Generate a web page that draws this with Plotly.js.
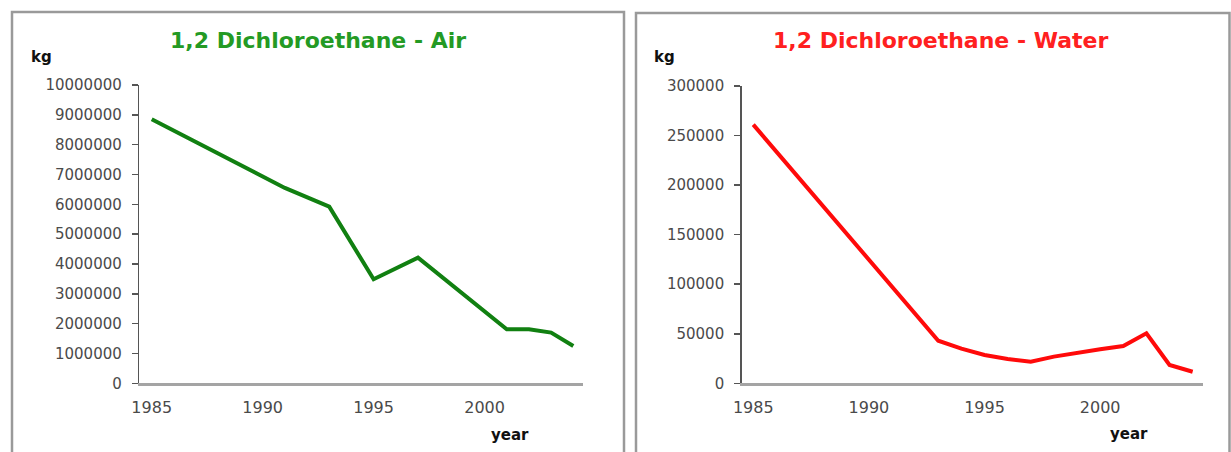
<!DOCTYPE html>
<html>
<head>
<meta charset="utf-8">
<script src="https://cdn.plot.ly/plotly-3.0.1.min.js"></script>
<style>html,body{margin:0;padding:0;background:#fff;}#chart{width:1231px;height:452px;}</style>
</head>
<body>
<div id="chart"></div>
<script>
// ---- data ----
const airYears = [1985, 1991, 1993, 1995, 1997, 2001, 2002, 2003, 2004];
const airKg = [8850000, 6550000, 5920000, 3490000, 4210000, 1810000, 1810000, 1700000, 1250000];

const waterYears = [1985, 1993, 1994, 1995, 1996, 1997, 1998, 1999, 2000, 2001, 2002, 2003, 2004];
const waterKg = [261000, 43000, 35000, 28600, 24500, 21800, 26900, 30900, 34300, 37600, 50400, 18500, 11700];

const xTickYears = [1985, 1990, 1995, 2000];
const airTicks = [0, 1000000, 2000000, 3000000, 4000000, 5000000, 6000000, 7000000, 8000000, 9000000, 10000000];
const waterTicks = [0, 50000, 100000, 150000, 200000, 250000, 300000];

const titleAir = "1,2 Dichloroethane - Air";
const titleWater = "1,2 Dichloroethane - Water";
const yLabel = "kg";
const xLabel = "year";

// ---- layout helpers ----
const W = 1231, H = 452;
const px = x => x / W;
const py = y => 1 - y / H;
const FONT = "DejaVu Sans, Verdana, sans-serif";

const traces = [
  {x: airYears, y: airKg, type: "scatter", mode: "lines", xaxis: "x", yaxis: "y",
   line: {color: "#118011", width: 4}, hoverinfo: "x+y"},
  {x: waterYears, y: waterKg, type: "scatter", mode: "lines", xaxis: "x2", yaxis: "y2",
   line: {color: "#ff0a0a", width: 4}, hoverinfo: "x+y"}
];

const xCommon = {
  showline: true, linecolor: "#a4a4a4", linewidth: 3, showgrid: false, zeroline: false,
  ticks: "", tickvals: xTickYears, ticktext: xTickYears.map(String),
  tickfont: {family: FONT, size: 16, color: "#4a4a4a"}, ticklabelstandoff: 7
};
const yCommon = {
  showline: true, linecolor: "#555", linewidth: 1.5, showgrid: false, zeroline: false,
  ticks: "outside", ticklen: 6, tickcolor: "#555", tickwidth: 1.5,
  tickformat: "d", tickfont: {family: FONT, size: 15, color: "#4a4a4a"}, ticklabelstandoff: 7
};

const layout = {
  width: W, height: H,
  margin: {l: 0, r: 0, t: 0, b: 0},
  paper_bgcolor: "#fff", plot_bgcolor: "#fff",
  showlegend: false,
  xaxis: Object.assign({}, xCommon, {domain: [px(139.3), px(583.3)], range: [1984.44, 2004.45], anchor: "y"}),
  yaxis: Object.assign({}, yCommon, {domain: [py(383.3), py(85)], range: [0, 10000000], tickvals: airTicks, anchor: "x"}),
  xaxis2: Object.assign({}, xCommon, {domain: [px(741.7), px(1203.3)], range: [1984.5, 2004.46], anchor: "y2"}),
  yaxis2: Object.assign({}, yCommon, {domain: [py(383.3), py(86)], range: [0, 300000], tickvals: waterTicks, anchor: "x2"}),
  shapes: [
    {type: "rect", xref: "paper", yref: "paper", x0: px(12), x1: px(624), y0: py(470), y1: py(12),
     line: {color: "#9a9a9a", width: 2.5}, fillcolor: "rgba(0,0,0,0)"},
    {type: "rect", xref: "paper", yref: "paper", x0: px(636), x1: px(1229.5), y0: py(470), y1: py(13),
     line: {color: "#9a9a9a", width: 2.5}, fillcolor: "rgba(0,0,0,0)"}
  ],
  annotations: [
    {text: "<b>" + titleAir + "</b>", xref: "paper", yref: "paper", x: px(318), y: py(40), xanchor: "center", yanchor: "middle",
     showarrow: false, font: {family: FONT, size: 22, color: "#249a24"}},
    {text: "<b>" + titleWater + "</b>", xref: "paper", yref: "paper", x: px(941), y: py(40), xanchor: "center", yanchor: "middle",
     showarrow: false, font: {family: FONT, size: 22, color: "#ff2020"}},
    {text: "<b>" + yLabel + "</b>", xref: "paper", yref: "paper", x: px(41), y: py(57), xanchor: "center", yanchor: "middle",
     showarrow: false, font: {family: FONT, size: 15, color: "#111"}},
    {text: "<b>" + yLabel + "</b>", xref: "paper", yref: "paper", x: px(665), y: py(57), xanchor: "center", yanchor: "middle",
     showarrow: false, font: {family: FONT, size: 15, color: "#111"}},
    {text: "<b>" + xLabel + "</b>", xref: "paper", yref: "paper", x: px(510), y: py(435), xanchor: "center", yanchor: "middle",
     showarrow: false, font: {family: FONT, size: 15, color: "#111"}},
    {text: "<b>" + xLabel + "</b>", xref: "paper", yref: "paper", x: px(1129), y: py(434), xanchor: "center", yanchor: "middle",
     showarrow: false, font: {family: FONT, size: 15, color: "#111"}}
  ]
};

Plotly.newPlot("chart", traces, layout, {displayModeBar: false, staticPlot: true});
</script>
</body>
</html>
